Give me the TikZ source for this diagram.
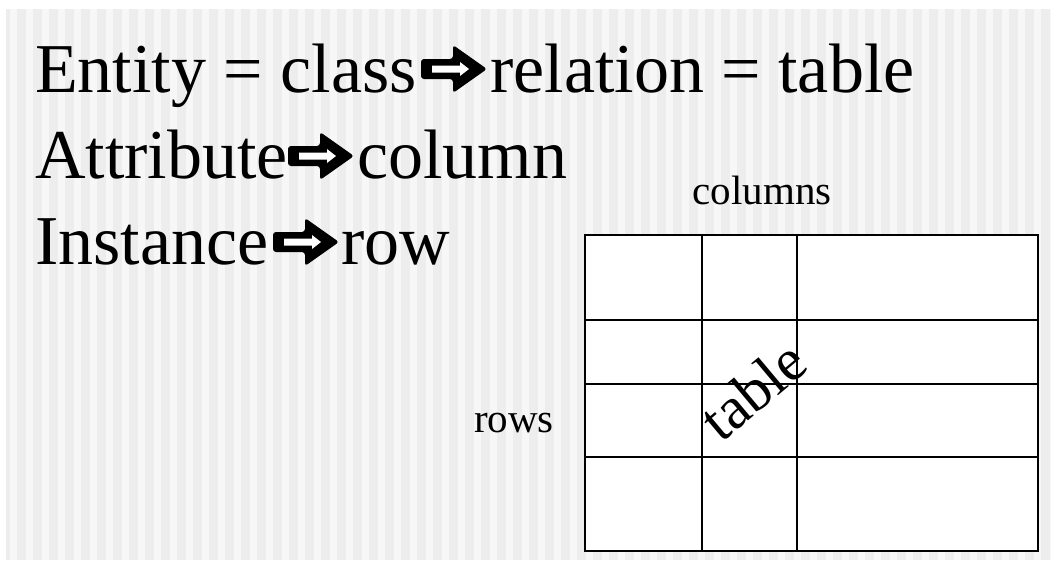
\documentclass[tikz,border=0pt]{standalone}
\usepackage{fontspec}
\setmainfont{Liberation Serif}
\begin{document}
\begin{tikzpicture}[x=1pt,y=-1pt,
  bigtext/.style={inner sep=0pt,anchor=base west,font=\fontsize{70}{84}\selectfont},
  labeltext/.style={inner sep=0pt,anchor=base,font=\fontsize{41}{49}\selectfont},
  gridline/.style={line width=1.6pt,black},
  blockarrow/.pic={
    \fill[black,rounded corners=3pt]
      (-33,-10) -- (-1,-10) -- (-1,-24) -- (33,0) -- (-1,24) -- (-1,10) -- (-33,10) -- cycle;
    \fill[white]
      (-22,-3.5) -- (6,-3.5) -- (6,-7) -- (15,0) -- (6,7) -- (6,3.5) -- (-22,3.5) -- cycle;
  }]
\useasboundingbox (0,0) rectangle (1051,560);
% background
\fill[white] (0,0) rectangle (1051,560);
\fill[black!7] (6,9) rectangle (1051,560);
\foreach \i in {0,...,65} {
  \fill[black!3] ({10+16*\i},9) rectangle ({17+16*\i},560);
}
% text lines
\node[bigtext] (ent) at (35,92) {Entity = class};
\pic at (454,69) {blockarrow};
\node[bigtext] (rel) at (490,92) {relation = table};
\node[bigtext] (att) at (35,178) {Attribute};
\pic at (321,156) {blockarrow};
\node[bigtext] (col) at (357,178) {column};
\node[bigtext] (ins) at (35,264) {Instance};
\pic at (306,242) {blockarrow};
\node[bigtext] (row) at (341,264) {row};
% table
\node[draw=none,fill=white,inner sep=0pt,minimum width=453pt,minimum height=316pt,anchor=north west] (tbl) at (585,235) {};
\draw[gridline] (585,235) rectangle (1038,551);
\draw[gridline] (702,235) -- (702,551);
\draw[gridline] (797,235) -- (797,551);
\draw[gridline] (585,320) -- (1038,320);
\draw[gridline] (585,384) -- (1038,384);
\draw[gridline] (585,457) -- (1038,457);
\node[labeltext] (colslbl) at (762,204) {columns};
\node[labeltext] (rowslbl) at (514,432) {rows};
\node[inner sep=0pt,anchor=base,rotate=40,font=\fontsize{60}{72}\selectfont] (tabletext) at (766,406) {table};
\end{tikzpicture}
\end{document}
